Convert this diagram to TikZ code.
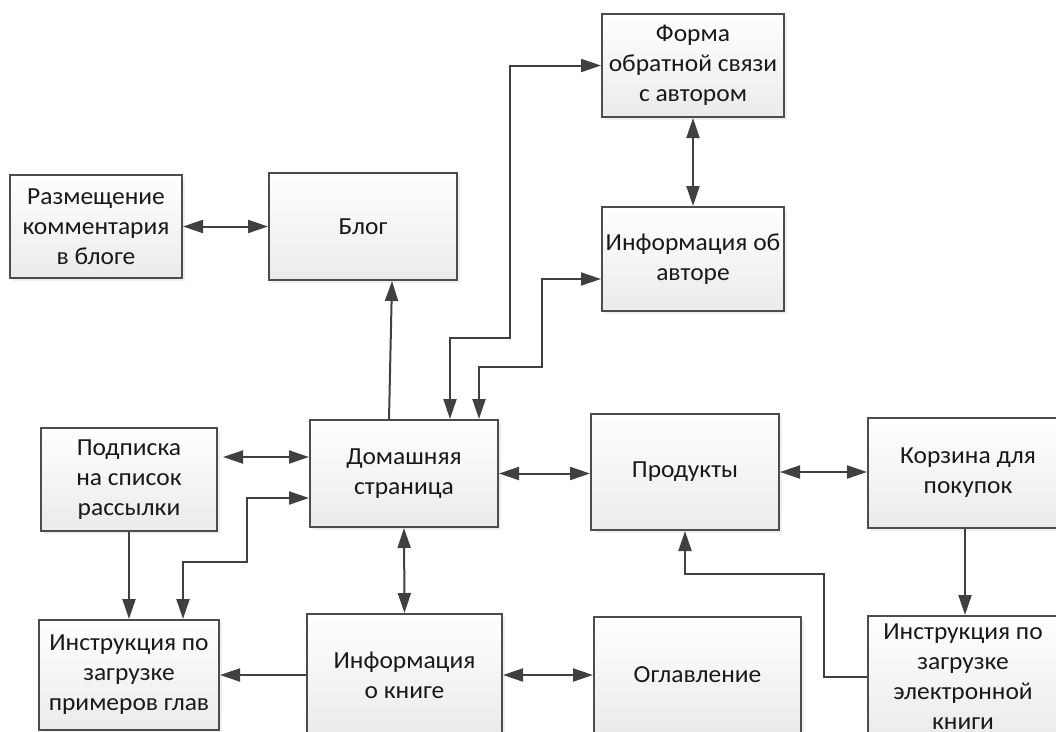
\documentclass[tikz,border=0pt]{standalone}
\usepackage{fontspec}
\setmainfont{Carlito}[FakeStretch=1.04]
\usetikzlibrary{arrows.meta,calc,shadows}
\begin{document}
\begin{tikzpicture}[x=1pt,y=-1pt,
  block/.style={draw=black!70,line width=2pt,top color=white,bottom color=black!8,
    drop shadow={opacity=0.12,shadow xshift=2.5pt,shadow yshift=-2.5pt},
    align=center,inner sep=1pt,font=\fontsize{24.5}{30}\selectfont,text=black!90},
  link/.style={draw=black!75,line width=2pt,-{Triangle[length=20pt,width=13pt]}},
  both/.style={link,{Triangle[length=20pt,width=13pt]}-{Triangle[length=20pt,width=13pt]}}]
\useasboundingbox (0,0) rectangle (1056,731);
\clip (0,0) rectangle (1056,731);
\fill[white] (0,0) rectangle (1056,731);

% blocks
\node[block,minimum width=172pt,minimum height=103pt] (razm) at (96,226.5) {Размещение\\комментария\\в блоге};
\node[block,minimum width=188pt,minimum height=107pt] (blog) at (363,226.5) {Блог};
\node[block,minimum width=182pt,minimum height=103pt] (forma) at (693,65.5) {Форма\\обратной связи\\с автором};
\node[block,minimum width=182pt,minimum height=104pt] (avtor) at (693,259) {Информация об\\авторе};
\node[block,minimum width=176pt,minimum height=103pt] (podp) at (129,479.5) {Подписка\\на список\\рассылки};
\node[block,minimum width=188pt,minimum height=107pt] (dom) at (404,473.5) {Домашняя\\страница};
\node[block,minimum width=188pt,minimum height=116pt] (prod) at (685,472) {Продукты};
\node[block,minimum width=200pt,minimum height=110pt] (korz) at (968,473) {Корзина для\\покупок};
\node[block,minimum width=180pt,minimum height=110pt] (glav) at (129,675) {Инструкция по\\загрузке\\примеров глав};
\node[block,minimum width=195pt,minimum height=122pt] (kniga) at (404.5,675) {Информация\\о книге};
\node[block,minimum width=207pt,minimum height=116pt] (ogl) at (697.5,675) {Оглавление};
\node[block,minimum width=190pt,minimum height=122pt] (ekn) at (963,677) {Инструкция по\\загрузке\\электронной\\книги};

% connectors
\draw[both] (razm.east) -- (blog.west);
\draw[link] ($(dom.north west)+(80,0)$) -- ($(blog.south west)+(124,0)$);
\draw[both] ($(dom.north west)+(141,0)$) |- (510,338) |- (forma.west);
\draw[both] ($(dom.north west)+(170,0)$) |- (542,367) |- ($(avtor.west)+(0,20)$);
\draw[both] (forma.south) -- (avtor.north);
\draw[both] ($(podp.east)+(5,-22.5)$) -- ($(dom.west)+(0,-16.5)$);
\draw[both] ($(dom.west)+(0,24.5)$) -| (247,562) -| ($(glav.north)+(54,0)$);
\draw[link] (podp.south) -- (glav.north);
\draw[both] (dom.south) -- (kniga.north);
\draw[link] (kniga.west) -- (glav.east);
\draw[both] (kniga.east) -- (ogl.west);
\draw[both] (dom.east) -- (prod.west |- dom.east);
\draw[both] (prod.east) -- (korz.west |- prod.east);
\draw[link] ($(korz.south)+(-3,0)$) -- ($(korz.south |- ekn.north)+(-3,0)$);
\draw[link] (ekn.west) -| (824,574) -| (prod.south);
\end{tikzpicture}
\end{document}
